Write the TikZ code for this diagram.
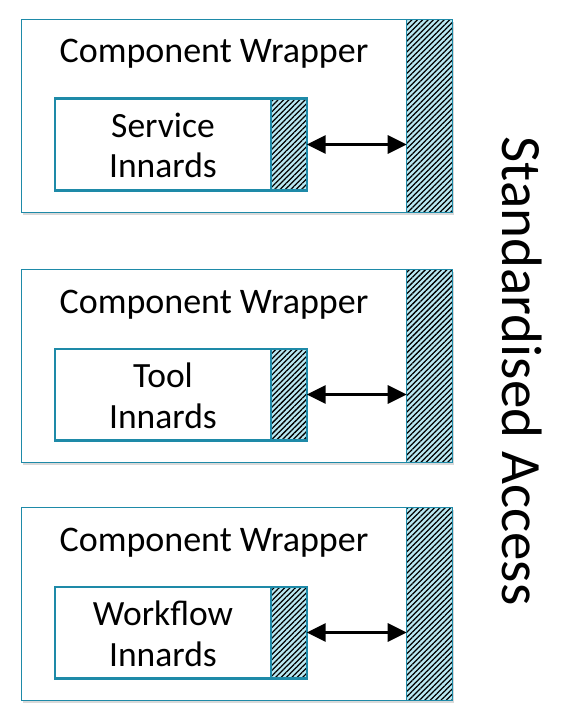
\documentclass[tikz,border=0pt]{standalone}
\usepackage{fontspec}
\setmainfont{Carlito}
\usetikzlibrary{patterns.meta,shadows,arrows.meta}
\definecolor{teal}{RGB}{30,138,168}
\definecolor{hatchbg}{RGB}{185,232,242}
\tikzset{
  wrapbox/.style={draw=teal, line width=1.5pt, fill=white, inner sep=0pt, outer sep=0pt,
    drop shadow={shadow xshift=1.5pt, shadow yshift=-2.5pt, opacity=0.3}},
  hatchbar/.style={draw=teal, line width=1.5pt, inner sep=0pt, outer sep=0pt,
    preaction={fill=hatchbg},
    pattern={Lines[angle=45,distance=3.8pt,line width=1.25pt]}, pattern color=black},
  innerbox/.style={draw=teal, line width=2.4pt, fill=white, inner sep=0pt, outer sep=0pt},
  innerhatch/.style={hatchbar, line width=2.4pt},
  titletext/.style={font=\fontsize{36}{40}\selectfont, inner sep=0pt},
  labeltext/.style={font=\fontsize{35.5}{40.3}\selectfont, align=center, inner sep=0pt},
  accessarrow/.style={line width=3pt, {Triangle[length=19pt,width=18pt]}-{Triangle[length=19pt,width=18pt]}},
}
\begin{document}
\begin{tikzpicture}[x=1pt,y=-1pt]
\useasboundingbox (0,0) rectangle (566,722);
\foreach \dy/\word/\id in {0/Service/a,250/Tool/b,488/Workflow/c}{
  \node[wrapbox, minimum width=431.4pt, minimum height=193pt] (outer\id) at (237,115.8+\dy) {};
  \node[hatchbar, minimum width=46pt, minimum height=193pt] (bar\id) at (429.7,115.8+\dy) {};
  \node[innerbox, minimum width=251.7pt, minimum height=91.6pt] (inner\id) at (180.8,144.5+\dy) {};
  \node[innerhatch, minimum width=36pt, minimum height=91.6pt] (ih\id) at (288.7,144.5+\dy) {};
  \node[titletext, anchor=base] (title\id) at (214,63+\dy) {Component Wrapper};
  \node[labeltext, anchor=base] (label\id) at (163,178+\dy) {\word\\Innards};
  \draw[accessarrow] (ih\id.east) -- (ih\id.east -| bar\id.west);
}
\node[rotate=-90, anchor=base, inner sep=0pt, font=\fontsize{57}{60}\selectfont] (access) at (502,371) {Standardised Access};
\end{tikzpicture}
\end{document}
